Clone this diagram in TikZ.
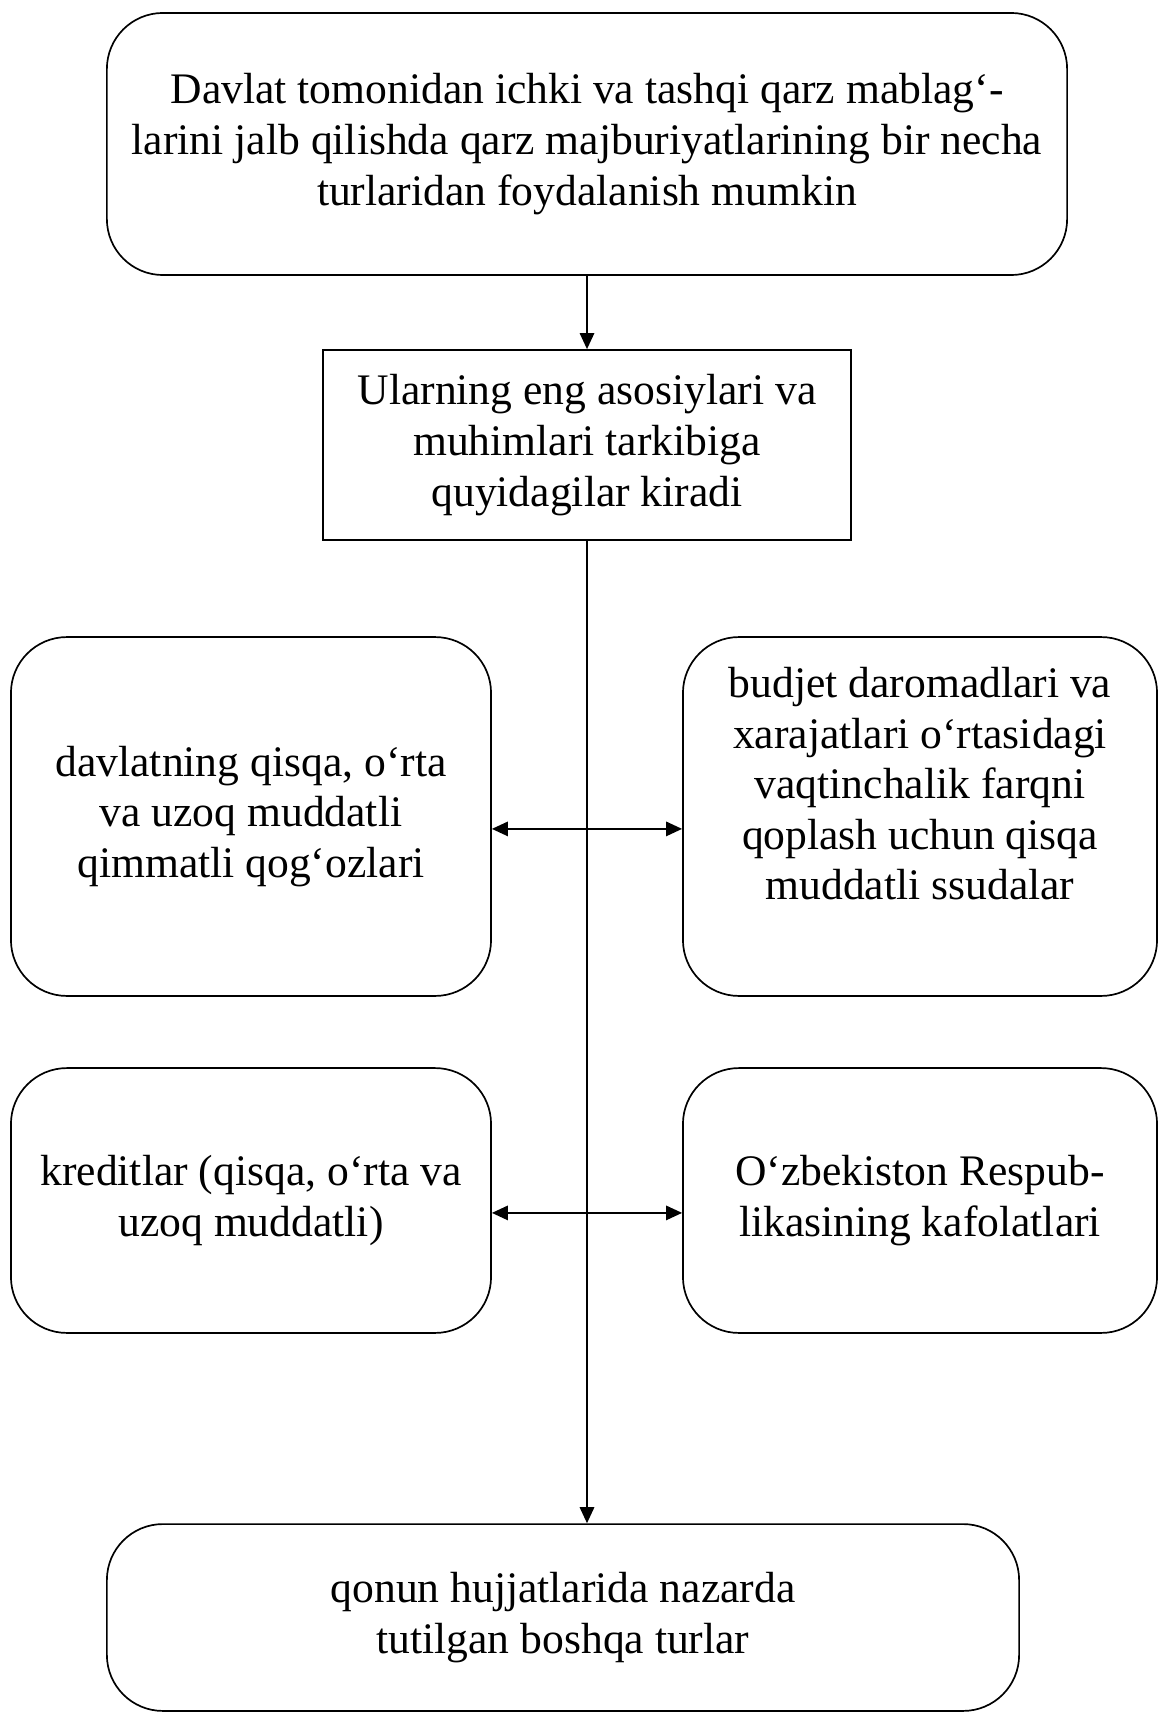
\documentclass[tikz,border=0pt]{standalone}
\usepackage{fontspec}
\setmainfont{Liberation Serif}
\usetikzlibrary{arrows.meta}

\begin{document}
\begin{tikzpicture}[x=0.025cm,y=-0.025cm,line width=1.2pt,
        >={Triangle[length=0.4cm,width=0.36cm]},
        every node/.style={font=\fontsize{31}{36}\selectfont,align=center,line width=1.2pt},
        rbox/.style={draw,rounded corners=1.4cm},
        sbox/.style={draw}]
        \useasboundingbox (0,0) rectangle (1158,1713);
        \node[rbox,minimum width=24cm,minimum height=6.55cm] (top) at (587,144)
            {Davlat tomonidan ichki va tashqi qarz mablag‘-\\larini jalb qilishda qarz majburiyatlarining bir necha\\turlaridan foydalanish mumkin};
        \node[sbox,minimum width=13.2cm,minimum height=4.75cm] (mid) at (587,445)
            {Ularning eng asosiylari va\\muhimlari tarkibiga\\quyidagilar kiradi};
        \node[rbox,minimum width=12cm,minimum height=8.97cm] (l1) at (251,816.5)
            {davlatning qisqa, o‘rta\\va uzoq muddatli\\qimmatli qog‘ozlari};
        \node[rbox,minimum width=11.85cm,minimum height=8.97cm] (r1) at (920,816.5)
            {budjet daromadlari va\\xarajatlari o‘rtasidagi\\vaqtinchalik farqni\\qoplash uchun qisqa\\muddatli ssudalar\\\strut};
        \node[rbox,minimum width=12cm,minimum height=6.62cm] (l2) at (251,1200.5)
            {kreditlar (qisqa, o‘rta va\\uzoq muddatli)};
        \node[rbox,minimum width=11.85cm,minimum height=6.62cm] (r2) at (920,1200.5)
            {O‘zbekiston Respub-\\likasining kafolatlari};
        \node[rbox,minimum width=22.8cm,minimum height=4.67cm] (bot) at (563,1617.5)
            {qonun hujjatlarida nazarda\\tutilgan boshqa turlar};
        \draw[->] (top.south) -- (mid.north);
        \draw[->] (mid.south) -- (mid.south |- bot.north);
        \foreach \a/\b in {l1/r1,l2/r2}{%
            \draw[<->] ([yshift=-0.31cm]\a.east) -- ([yshift=-0.31cm]\b.west);}
\end{tikzpicture}
\end{document}
